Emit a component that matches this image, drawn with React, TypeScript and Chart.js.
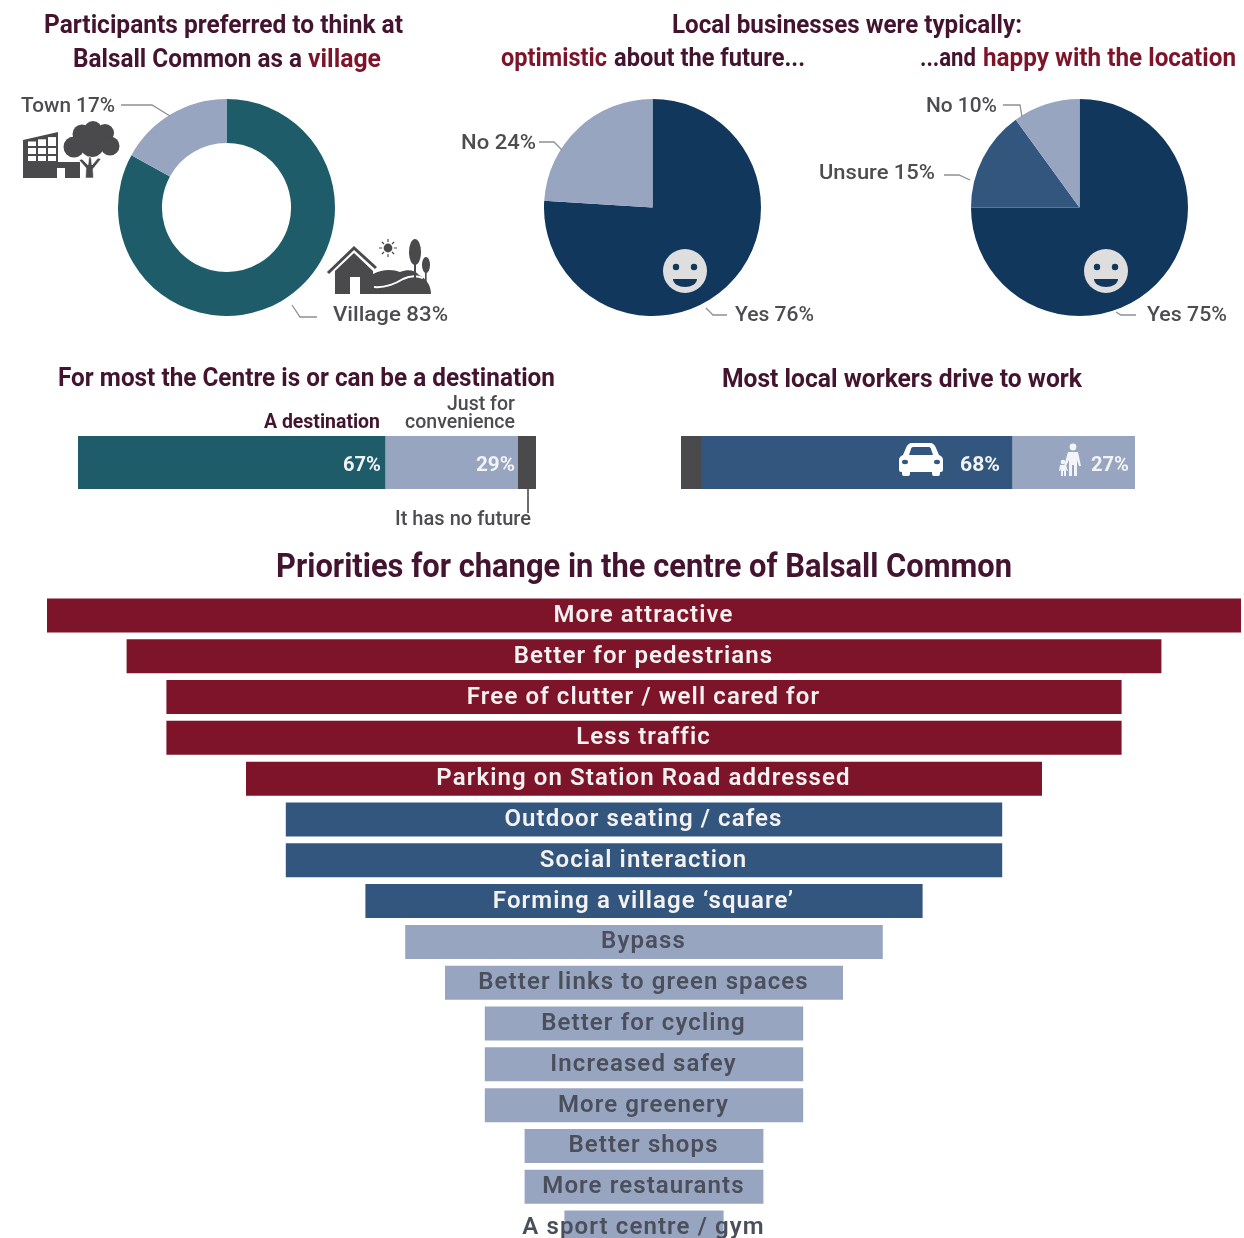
import React, { useEffect, useRef } from "react";
import { Chart, registerables } from "chart.js";

Chart.register(...registerables);

// Survey shares, in percent
const identityLabels = ["Village", "Town"];
const identityValues = [83, 17];
const optimismLabels = ["Yes", "No"];
const optimismValues = [76, 24];
const locationLabels = ["Yes", "Unsure", "No"];
const locationValues = [75, 15, 10];
const destinationLabels = ["A destination", "Just for convenience", "It has no future"];
const destinationValues = [67, 29, 4];
const commuteLabels = ["Other", "Car", "Walk"];
const commuteValues = [4.5, 68, 27];

// Priorities for change, in relative mentions
const priorityLabels = [
  "More attractive",
  "Better for pedestrians",
  "Free of clutter / well cared for",
  "Less traffic",
  "Parking on Station Road addressed",
  "Outdoor seating / cafes",
  "Social interaction",
  "Forming a village ‘square’",
  "Bypass",
  "Better links to green spaces",
  "Better for cycling",
  "Increased safey",
  "More greenery",
  "Better shops",
  "More restaurants",
  "A sport centre / gym",
];
const priorityValues = [30, 26, 24, 24, 20, 18, 18, 14, 12, 10, 8, 8, 8, 6, 6, 4];
const priorityBands = [0, 0, 0, 0, 0, 1, 1, 1, 2, 2, 2, 2, 2, 2, 2, 2];

const TEAL = "#1f5c6a";
const NAVY = "#12375c";
const BLUE = "#33567f";
const PALE = "#98a5c0";
const DARK = "#4a4a4c";
const CRIMSON = "#7e1429";
const PLUM = "#43132f";
const GREY = "#4d4d4f";
const bandColours = [CRIMSON, BLUE, PALE];
const bandText = ["#f4f1f1", "#f4f1f1", "#4b4f5c"];

const FONT = "Roboto, 'DejaVu Sans', sans-serif";

const radialOptions = (cutout: string | number) => ({
  responsive: false,
  animation: false as const,
  cutout,
  layout: { padding: 0 },
  plugins: { legend: { display: false }, tooltip: { enabled: false } },
});

const stackedOptions = (total: number) => ({
  responsive: false,
  animation: false as const,
  indexAxis: "y" as const,
  layout: { padding: 0 },
  plugins: { legend: { display: false }, tooltip: { enabled: false } },
  scales: {
    x: { display: false, stacked: true, min: 0, max: total },
    y: { display: false, stacked: true },
  },
});

function stackedDatasets(labels: string[], values: number[], colours: string[]) {
  return labels.map((label, i) => ({
    label,
    data: [values[i]],
    backgroundColor: colours[i],
    borderWidth: 0,
    barPercentage: 1,
    categoryPercentage: 1,
  }));
}

// Writes each priority name centred on its bar
const barNames = {
  id: "barNames",
  afterDatasetsDraw(chart: any) {
    const { ctx } = chart;
    const bars = chart.getDatasetMeta(0).data;
    ctx.save();
    ctx.font = `600 24px ${FONT}`;
    ctx.letterSpacing = "1.1px";
    ctx.textAlign = "center";
    ctx.textBaseline = "alphabetic";
    bars.forEach((bar: any, i: number) => {
      ctx.fillStyle = bandText[priorityBands[i]];
      ctx.fillText(priorityLabels[i], chart.width / 2 - 0.5, bar.y + 6.5);
    });
    ctx.restore();
  },
};

function ChartBox({ left, top, width, height, config }: any) {
  const ref = useRef<HTMLCanvasElement>(null);
  useEffect(() => {
    const chart = new Chart(ref.current as HTMLCanvasElement, config);
    return () => chart.destroy();
  }, []);
  return (
    <canvas
      ref={ref}
      width={width}
      height={height}
      style={{ position: "absolute", left, top, width, height, display: "block" }}
    />
  );
}

// Text fitted to a known horizontal extent
function T({ x, y, w, size, fill = GREY, weight = 500, children }: any) {
  return (
    <text
      x={x}
      y={y}
      textLength={w}
      lengthAdjust="spacingAndGlyphs"
      fontSize={size}
      fontWeight={weight}
      fontFamily={FONT}
      fill={fill}
    >
      {children}
    </text>
  );
}

function Leader({ points }: { points: string }) {
  return <polyline points={points} fill="none" stroke="#8f9092" strokeWidth={1.3} />;
}

function Smiley({ cx, cy }: { cx: number; cy: number }) {
  return (
    <g>
      <circle cx={cx} cy={cy} r={22} fill="#dedede" />
      <circle cx={cx - 9} cy={cy - 4} r={3.2} fill={NAVY} />
      <circle cx={cx + 9} cy={cy - 4} r={3.2} fill={NAVY} />
      <path d={`M${cx - 12} ${cy + 8}h24a12 8 0 0 1 -24 0z`} fill={NAVY} />
    </g>
  );
}

function TownIcon() {
  const panes = [];
  for (let c = 0; c < 3; c++) {
    const px = 28 + c * 10;
    const slopeTop = 141.5 - c * 2.2;
    panes.push(<rect key={`t${c}`} x={px} y={slopeTop} width={8} height={146.5 - slopeTop - 0.5} fill="#fff" />);
    panes.push(<rect key={`m${c}`} x={px} y={148} width={8} height={6} fill="#fff" />);
    panes.push(<rect key={`b${c}`} x={px} y={156} width={8} height={5} fill="#fff" />);
  }
  return (
    <g fill={DARK}>
      <path d="M23 140L58 132v30h22v16H23z" />
      {panes}
      <rect x={57} y={168} width={8} height={10} fill="#fff" />
      <g>
        <circle cx={74} cy={147} r={10.5} />
        <circle cx={82} cy={134} r={9.5} />
        <circle cx={93} cy={130} r={9} />
        <circle cx={105} cy={133} r={9} />
        <circle cx={110} cy={146} r={9.5} />
        <circle cx={92} cy={145} r={12} />
      </g>
      <path d="M85.5 178l0.5-10-7-8 3-1 6 6 1-8h2l1 8 6-7 3 1-8 10 0.5 9z" stroke="#fff" strokeWidth={0.6} />
    </g>
  );
}

function VillageIcon() {
  return (
    <g fill={DARK}>
      <path d="M335 271l19-18 19 18v23h-38z" />
      <path d="M350 277h10v17h-10z" fill="#fff" />
      <path d="M328 273l26-25 22 20" fill="none" stroke={DARK} strokeWidth={3} />
      <path d="M373 294v-20c9-5 20-5 27-2c8-3 15-2 19 3c6 3 12 9 12 19z" />
      <path d="M374 287c12 1 21-3 29-8c6-3 13-4 20 -1" fill="none" stroke="#fff" strokeWidth={2} />
      <ellipse cx={415} cy={252} rx={6} ry={13} />
      <rect x={414} y={262} width={2} height={16} />
      <ellipse cx={426} cy={265} rx={4} ry={8} />
      <rect x={425} y={270} width={1.6} height={12} />
      <circle cx={388} cy={248} r={4.4} />
      <g stroke={DARK} strokeWidth={1.2}>
        <path d="M388 239v3M388 254v3M379 248h3M394 248h3M382 242l2 2M392 252l2 2M382 254l2-2M392 244l2-2" />
      </g>
    </g>
  );
}

function CarIcon() {
  return (
    <g fill="#fff">
      <path d="M906 448c1-3 3-5 6-5h18c3 0 5 2 6 5l3 7c3 1 4 3 4 5v10c0 1-1 2-2 2h-40c-1 0-2-1-2-2v-10c0-2 1-4 4-5z" />
      <rect x={902} y={470} width={8} height={6} rx={2} />
      <rect x={932} y={470} width={8} height={6} rx={2} />
      <path d="M909 455l2-6c0-1 1-2 2-2h16c1 0 2 1 2 2l2 6z" fill={BLUE} />
      <ellipse cx={905} cy={462} rx={3} ry={2.2} fill={BLUE} />
      <ellipse cx={937} cy={462} rx={3} ry={2.2} fill={BLUE} />
    </g>
  );
}

function WalkersIcon() {
  return (
    <g fill="#f3f4f7">
      <circle cx={1073} cy={447} r={3.4} />
      <path d="M1068 452h10l3 14h-2l-2-6v16h-3v-11h-2v11h-3v-16l-3 6h-2z" />
      <circle cx={1063} cy={462} r={2.3} />
      <path d="M1060 465h6l2 6h-1l-1-2v7h-2v-5h-1v5h-2v-7l-1 2h-1z" />
    </g>
  );
}

export default function App() {
  return (
    <div style={{ position: "absolute", left: 0, top: 0, width: 1244, height: 1238, overflow: "hidden", background: "#fff" }}>
      <ChartBox
        left={118}
        top={99}
        width={217}
        height={217}
        config={{
          type: "doughnut",
          data: {
            labels: identityLabels,
            datasets: [{ data: identityValues, backgroundColor: [TEAL, PALE], borderWidth: 0 }],
          },
          options: radialOptions("59.5%"),
        }}
      />
      <ChartBox
        left={544}
        top={99}
        width={217}
        height={217}
        config={{
          type: "pie",
          data: {
            labels: optimismLabels,
            datasets: [{ data: optimismValues, backgroundColor: [NAVY, PALE], borderWidth: 0 }],
          },
          options: radialOptions(0),
        }}
      />
      <ChartBox
        left={971}
        top={99}
        width={217}
        height={217}
        config={{
          type: "pie",
          data: {
            labels: locationLabels,
            datasets: [{ data: locationValues, backgroundColor: [NAVY, BLUE, PALE], borderWidth: 0 }],
          },
          options: radialOptions(0),
        }}
      />
      <ChartBox
        left={78}
        top={436}
        width={458}
        height={53}
        config={{
          type: "bar",
          data: { labels: ["Centre"], datasets: stackedDatasets(destinationLabels, destinationValues, [TEAL, PALE, DARK]) },
          options: stackedOptions(100),
        }}
      />
      <ChartBox
        left={681}
        top={436}
        width={454}
        height={53}
        config={{
          type: "bar",
          data: { labels: ["Workers"], datasets: stackedDatasets(commuteLabels, commuteValues, [DARK, BLUE, PALE]) },
          options: stackedOptions(99.5),
        }}
      />
      <ChartBox
        left={47}
        top={595}
        width={1194}
        height={653}
        config={{
          type: "bar",
          data: {
            labels: priorityLabels,
            datasets: [
              {
                data: priorityValues.map((v) => [-v / 2, v / 2]),
                backgroundColor: priorityBands.map((b) => bandColours[b]),
                borderWidth: 0,
                barPercentage: 0.834,
                categoryPercentage: 1,
              },
            ],
          },
          options: {
            responsive: false,
            animation: false,
            indexAxis: "y",
            layout: { padding: 0 },
            plugins: { legend: { display: false }, tooltip: { enabled: false } },
            scales: {
              x: { display: false, min: -15, max: 15 },
              y: { display: false },
            },
          },
          plugins: [barNames],
        }}
      />
      <svg
        width={1244}
        height={1238}
        style={{ position: "absolute", left: 0, top: 0, pointerEvents: "none" }}
      >
        {/* Headings above the three round charts */}
        <T x={44} y={33} w={359} size={25} fill={PLUM} weight={700}>Participants preferred to think at</T>
        <T x={73} y={67} w={229} size={25} fill={PLUM} weight={700}>Balsall Common as a</T>
        <T x={308} y={67} w={73} size={25} fill={CRIMSON} weight={700}>village</T>
        <T x={672} y={33} w={350} size={25} fill={PLUM} weight={700}>Local businesses were typically:</T>
        <T x={501} y={66} w={106} size={25} fill={CRIMSON} weight={700}>optimistic</T>
        <T x={614} y={66} w={191} size={25} fill={PLUM} weight={700}>about the future...</T>
        <T x={920} y={66} w={56} size={25} fill={PLUM} weight={700}>...and</T>
        <T x={983} y={66} w={253} size={25} fill={CRIMSON} weight={700}>happy with the location</T>

        {/* Round chart labels and their leader lines */}
        <T x={21} y={112} w={94} size={21}>Town 17%</T>
        <Leader points="121,105 152,105 170,116" />
        <T x={333} y={321} w={115} size={21}>Village 83%</T>
        <Leader points="292,305 300,317 317,317" />
        <T x={461} y={149} w={75} size={21}>No 24%</T>
        <Leader points="539,142 554,142 562,150" />
        <T x={735} y={321} w={79} size={21}>Yes 76%</T>
        <Leader points="706,308 713,315 727,315" />
        <T x={926} y={112} w={71} size={21}>No 10%</T>
        <Leader points="1003,105 1020,105 1022,117" />
        <T x={819} y={179} w={116} size={21}>Unsure 15%</T>
        <Leader points="944,175 959,175 970,180" />
        <T x={1147} y={321} w={80} size={21}>Yes 75%</T>
        <Leader points="1116,312 1121,315 1136,315" />
        <TownIcon />
        <VillageIcon />
        <Smiley cx={685} cy={271} />
        <Smiley cx={1106} cy={271} />

        {/* Stacked bar headings and labels */}
        <T x={58} y={386} w={497} size={26} fill={PLUM} weight={700}>For most the Centre is or can be a destination</T>
        <T x={722} y={387} w={360} size={26} fill={PLUM} weight={700}>Most local workers drive to work</T>
        <T x={264} y={428} w={116} size={20} fill={PLUM} weight={700}>A destination</T>
        <T x={447} y={410} w={68} size={20}>Just for</T>
        <T x={405} y={428} w={110} size={20}>convenience</T>
        <T x={343} y={471} w={38} size={21} fill="#f2f3f5" weight={700}>67%</T>
        <T x={476} y={471} w={39} size={21} fill="#f2f3f5" weight={700}>29%</T>
        <line x1={528} y1={489} x2={528} y2={513} stroke={DARK} strokeWidth={1.6} />
        <T x={395} y={525} w={136} size={20}>It has no future</T>
        <CarIcon />
        <T x={960} y={471} w={40} size={21} fill="#f2f3f5" weight={700}>68%</T>
        <WalkersIcon />
        <T x={1091} y={471} w={38} size={21} fill="#f2f3f5" weight={700}>27%</T>

        <T x={276} y={577} w={736} size={34} fill={PLUM} weight={700}>Priorities for change in the centre of Balsall Common</T>
      </svg>
    </div>
  );
}
